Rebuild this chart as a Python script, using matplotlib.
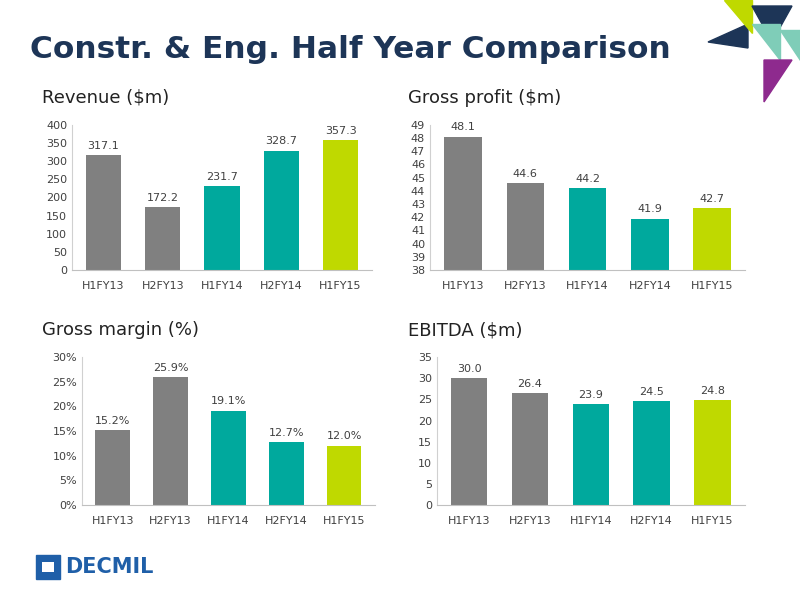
import matplotlib.pyplot as plt
from matplotlib.patches import Polygon, Rectangle

periods = ["H1FY13", "H2FY13", "H1FY14", "H2FY14", "H1FY15"]
revenue = [317.1, 172.2, 231.7, 328.7, 357.3]
gross_profit = [48.1, 44.6, 44.2, 41.9, 42.7]
gross_margin = [15.2, 25.9, 19.1, 12.7, 12.0]
ebitda = [30.0, 26.4, 23.9, 24.5, 24.8]

bar_colors = ["#808080", "#808080", "#00a99d", "#00a99d", "#bfd900"]
navy = "#1d3557"

fig = plt.figure(figsize=(8, 6), dpi=100)

fig.text(0.037, 0.918, "Constr. & Eng. Half Year Comparison", fontsize=22.5,
         fontweight="bold", color=navy, ha="left", va="center")


def panel(rect, title, values, ylim, step, fmt, title_xy, yfmt=None):
    ax = fig.add_axes(rect)
    bars = ax.bar(periods, values, color=bar_colors, width=0.6)
    ax.set_ylim(*ylim)
    ticks = []
    t = ylim[0]
    while t <= ylim[1] + 1e-9:
        ticks.append(t)
        t += step
    ax.set_yticks(ticks)
    if yfmt:
        ax.set_yticklabels([yfmt(v) for v in ticks])
    span = ylim[1] - ylim[0]
    for b, v in zip(bars, values):
        ax.text(b.get_x() + b.get_width() / 2, v + span * 0.03, fmt(v),
                ha="center", va="bottom", fontsize=8, color="#404040")
    for s in ["top", "right"]:
        ax.spines[s].set_visible(False)
    ax.spines["left"].set_color("#d0d0d0")
    ax.spines["bottom"].set_color("#c0c0c0")
    ax.tick_params(length=0, labelsize=8, colors="#404040")
    ax.tick_params(axis="x", pad=8)
    fig.text(title_xy[0], title_xy[1], title, fontsize=13, color="#222222",
             ha="left", va="center")
    return ax


panel([0.09, 0.55, 0.375, 0.242], "Revenue ($m)", revenue, (0, 400), 50,
      lambda v: f"{v:.1f}", (0.053, 0.837))
panel([0.5375, 0.55, 0.394, 0.242], "Gross profit ($m)", gross_profit, (38, 49), 1,
      lambda v: f"{v:.1f}", (0.51, 0.837))
panel([0.1025, 0.158, 0.366, 0.247], "Gross margin (%)", gross_margin, (0, 30), 5,
      lambda v: f"{v:.1f}%", (0.053, 0.45), yfmt=lambda v: f"{v:.0f}%")
panel([0.546, 0.158, 0.385, 0.247], "EBITDA ($m)", ebitda, (0, 35), 5,
      lambda v: f"{v:.1f}", (0.51, 0.45))

# logo
fig.patches.append(Rectangle((0.045, 0.035), 0.03, 0.04, transform=fig.transFigure,
                             color="#1f5fa8"))
fig.patches.append(Rectangle((0.053, 0.046), 0.014, 0.018, transform=fig.transFigure,
                             facecolor="white", edgecolor="none"))
fig.text(0.082, 0.055, "DECMIL", fontsize=15, fontweight="bold", color="#1f5fa8",
         ha="left", va="center")

# decorative corner shapes
shapes = [
    ([(0.885, 0.93), (0.935, 0.96), (0.935, 0.92)], "#1d3557"),
    ([(0.905, 1.0), (0.94, 1.0), (0.94, 0.945)], "#bfd900"),
    ([(0.94, 0.99), (0.99, 0.99), (0.965, 0.93)], "#1d3557"),
    ([(0.94, 0.96), (0.975, 0.96), (0.975, 0.9)], "#7fcdb8"),
    ([(0.955, 0.9), (0.99, 0.9), (0.955, 0.83)], "#8e2a8e"),
    ([(0.975, 0.95), (1.0, 0.95), (1.0, 0.9)], "#7fcdb8"),
]
for pts, c in shapes:
    fig.patches.append(Polygon(pts, closed=True, transform=fig.transFigure, color=c))

fig.savefig("out.png", dpi=100)
